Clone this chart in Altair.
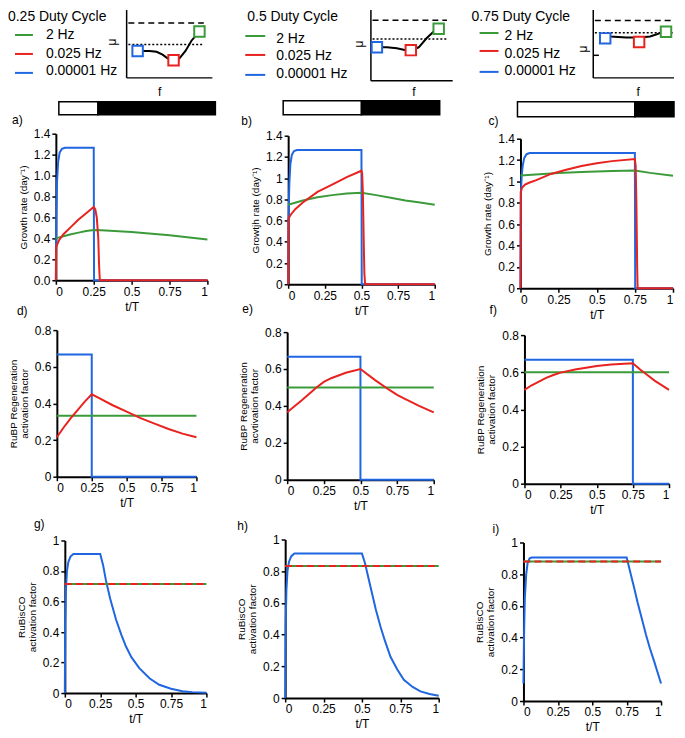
import altair as alt
import pandas as pd

GREEN = "#3b9b3b"
RED = "#e8231f"
BLUE = "#1f66e0"
FONT = "Liberation Sans"

# ---------------- data ----------------
duty_cycles = [0.25, 0.5, 0.75]
col_titles = ["0.25 Duty Cycle", "0.5 Duty Cycle", "0.75 Duty Cycle"]
legend_labels = ["2 Hz", "0.025 Hz", "0.00001 Hz"]
legend_colors = [GREEN, RED, BLUE]
x_ticks = [0, 0.25, 0.5, 0.75, 1]
growth_ticks = [0, 0.2, 0.4, 0.6, 0.8, 1.0, 1.2, 1.4]
rubp_ticks = [0, 0.2, 0.4, 0.6, 0.8]
rubisco_ticks = [0, 0.2, 0.4, 0.6, 0.8, 1.0]

# panel a (growth, 0.25)
a_blue_t = [0, 0.003, 0.008, 0.015, 0.025, 0.04, 0.06, 0.25, 0.252, 1]
a_blue_v = [0, 0.60, 0.95, 1.13, 1.22, 1.255, 1.265, 1.265, 0, 0]
a_red_t = [0, 0.002, 0.02, 0.05, 0.1, 0.15, 0.2, 0.25, 0.26, 0.27, 0.28, 0.285, 0.29, 1]
a_red_v = [0, 0.32, 0.38, 0.44, 0.51, 0.58, 0.64, 0.70, 0.68, 0.60, 0.40, 0.15, 0, 0]
a_green_t = [0, 0.05, 0.1, 0.15, 0.2, 0.25, 0.3, 0.5, 0.75, 1]
a_green_v = [0.40, 0.42, 0.44, 0.455, 0.47, 0.48, 0.478, 0.46, 0.43, 0.39]
# panel b (growth, 0.5)
b_blue_t = [0, 0.003, 0.008, 0.015, 0.025, 0.04, 0.06, 0.5, 0.502, 1]
b_blue_v = [0, 0.65, 0.95, 1.13, 1.22, 1.255, 1.265, 1.265, 0, 0]
b_red_t = [0, 0.002, 0.02, 0.05, 0.1, 0.2, 0.3, 0.4, 0.5, 0.505, 0.51, 0.515, 0.52, 0.525, 1]
b_red_v = [0, 0.62, 0.66, 0.71, 0.77, 0.87, 0.94, 1.01, 1.07, 1.04, 0.85, 0.45, 0.1, 0, 0]
b_green_t = [0, 0.1, 0.2, 0.3, 0.4, 0.5, 0.6, 0.7, 0.8, 0.9, 1]
b_green_v = [0.75, 0.79, 0.82, 0.84, 0.855, 0.862, 0.84, 0.815, 0.79, 0.77, 0.75]
# panel c (growth, 0.75)
c_blue_t = [0, 0.003, 0.008, 0.015, 0.025, 0.04, 0.06, 0.75, 0.752, 1]
c_blue_v = [0, 0.90, 1.05, 1.15, 1.22, 1.255, 1.265, 1.265, 0, 0]
c_red_t = [0, 0.002, 0.01, 0.03, 0.06, 0.1, 0.2, 0.3, 0.4, 0.5, 0.6, 0.75, 0.755, 0.76, 0.765, 0.768, 1]
c_red_v = [0, 0.90, 0.94, 0.97, 0.99, 1.01, 1.07, 1.11, 1.145, 1.17, 1.19, 1.21, 1.15, 0.8, 0.2, 0, 0]
c_green_t = [0, 0.1, 0.25, 0.4, 0.5, 0.6, 0.75, 0.85, 1]
c_green_v = [1.055, 1.065, 1.078, 1.088, 1.094, 1.098, 1.103, 1.08, 1.053]
# panel d (RuBP, 0.25)
d_blue_t = [0, 0.25, 0.25, 1]
d_blue_v = [0.667, 0.667, 0, 0]
d_red_t = [0, 0.05, 0.1, 0.15, 0.2, 0.25, 0.3, 0.4, 0.5, 0.6, 0.7, 0.8, 0.9, 1]
d_red_v = [0.215, 0.27, 0.32, 0.365, 0.41, 0.45, 0.43, 0.39, 0.355, 0.32, 0.29, 0.26, 0.235, 0.215]
d_green_t = [0, 1]
d_green_v = [0.333, 0.333]
# panel e (RuBP, 0.5)
e_blue_t = [0, 0.5, 0.5, 1]
e_blue_v = [0.667, 0.667, 0, 0]
e_red_t = [0, 0.1, 0.2, 0.25, 0.3, 0.4, 0.5, 0.6, 0.7, 0.75, 0.8, 0.9, 1]
e_red_v = [0.365, 0.43, 0.50, 0.53, 0.55, 0.58, 0.60, 0.54, 0.485, 0.46, 0.44, 0.40, 0.365]
e_green_t = [0, 1]
e_green_v = [0.5, 0.5]
# panel f (RuBP, 0.75)
f_blue_t = [0, 0.75, 0.75, 1]
f_blue_v = [0.667, 0.667, 0, 0]
f_red_t = [0, 0.05, 0.1, 0.15, 0.2, 0.25, 0.35, 0.5, 0.6, 0.75, 0.8, 0.85, 0.9, 1]
f_red_v = [0.505, 0.53, 0.55, 0.57, 0.585, 0.598, 0.615, 0.634, 0.642, 0.648, 0.615, 0.585, 0.555, 0.505]
f_green_t = [0, 1]
f_green_v = [0.6, 0.6]
# panel g (RuBisCO, 0.25)
g_blue_t = [0, 0.003, 0.008, 0.015, 0.025, 0.04, 0.06, 0.25, 0.27, 0.29, 0.32, 0.362, 0.4,
            0.432, 0.47, 0.526, 0.6, 0.667, 0.75, 0.831, 0.9, 1]
g_blue_v = [0, 0.45, 0.68, 0.80, 0.86, 0.895, 0.912, 0.912, 0.84, 0.74, 0.62, 0.48, 0.38,
            0.305, 0.235, 0.163, 0.095, 0.054, 0.028, 0.012, 0.006, 0.002]
g_flat_t = [0, 1]
g_flat_v = [0.715, 0.715]
# panel h (RuBisCO, 0.5)
h_blue_t = [0, 0.003, 0.008, 0.015, 0.025, 0.04, 0.06, 0.5, 0.52, 0.556, 0.59, 0.621, 0.65,
            0.686, 0.73, 0.773, 0.83, 0.881, 0.94, 1]
h_blue_v = [0, 0.45, 0.68, 0.80, 0.86, 0.895, 0.912, 0.912, 0.85, 0.70, 0.56, 0.45, 0.36,
            0.26, 0.18, 0.115, 0.07, 0.042, 0.025, 0.015]
h_flat_t = [0, 1]
h_flat_v = [0.833, 0.833]
# panel i (RuBisCO, 0.75)
i_blue_t = [0, 0.005, 0.01, 0.02, 0.03, 0.045, 0.06, 0.75, 0.76, 0.78, 0.80, 0.83, 0.86,
            0.89, 0.92, 0.95, 0.975, 1]
i_blue_v = [0.11, 0.45, 0.65, 0.80, 0.87, 0.90, 0.905, 0.905, 0.87, 0.80, 0.73, 0.62, 0.52,
            0.42, 0.33, 0.25, 0.18, 0.11]
i_flat_t = [0, 1]
i_flat_v = [0.88, 0.88]

# inset schematic (f vs mu) for each duty cycle
ins1_f = [0.128, 0.267, 0.349, 0.419, 0.477, 0.547, 0.616, 0.686, 0.756, 0.849, 0.907]
ins1_mu = [0.397, 0.397, 0.384, 0.342, 0.288, 0.260, 0.288, 0.397, 0.548, 0.685, 0.767]
ins1_sq_f = [0.849, 0.547, 0.128]
ins1_sq_mu = [0.685, 0.260, 0.397]
ins1_ref = [0.808, 0.493]
ins2_f = [0.073, 0.195, 0.317, 0.427, 0.488, 0.585, 0.683, 0.805, 0.866]
ins2_mu = [0.474, 0.474, 0.461, 0.434, 0.434, 0.474, 0.605, 0.737, 0.803]
ins2_sq_f = [0.829, 0.488, 0.073]
ins2_sq_mu = [0.737, 0.434, 0.474]
ins2_ref = [0.855, 0.592]
ins3_f = [0.086, 0.210, 0.407, 0.580, 0.704, 0.778, 0.864, 0.963]
ins3_mu = [0.625, 0.611, 0.597, 0.597, 0.611, 0.639, 0.681, 0.722]
ins3_sq_f = [0.901, 0.568, 0.148]
ins3_sq_mu = [0.681, 0.528, 0.583]
ins3_ref = [0.847, 0.667]

# ---------------- layout ----------------
COL_W = [228, 235, 157]
ROW_H = [124, 197, 210, 162]


def sdf(t, v):
    return pd.DataFrame({"t": t, "v": v, "i": list(range(len(t)))})


def panel(series, ymax, yvals, yfmt, ytitle, label, W, H, xr, yr, lab):
    xs = alt.Scale(domain=[0, 1], range=list(xr), nice=False, zero=False)
    ys = alt.Scale(domain=[0, ymax], range=list(yr), nice=False, zero=False)
    xax = alt.Axis(values=x_ticks, format=".3~g", title="t/T", offset=-(H - yr[0]))
    yax = alt.Axis(values=yvals, format=yfmt, title=ytitle, offset=-xr[0])
    layers = []
    for (t, v, color, dash) in series:
        kw = dict(color=color, strokeWidth=2, clip=False)
        if dash:
            kw["strokeDash"] = dash
        layers.append(
            alt.Chart(sdf(t, v)).mark_line(**kw).encode(
                x=alt.X("t:Q", scale=xs, axis=xax),
                y=alt.Y("v:Q", scale=ys, axis=yax),
                order="i:Q",
            )
        )
    layers.append(
        alt.Chart(pd.DataFrame({"l": [label]})).mark_text(
            align="left", baseline="middle", fontSize=12, color="black"
        ).encode(x=alt.value(lab[0]), y=alt.value(lab[1]), text="l:N")
    )
    return alt.layer(*layers).properties(width=W, height=H)


def header(k, W, H, title_x, lx, lys, tx, tys, fr, mr, curve_f, curve_mu, sq_f, sq_mu, ref,
           ref_f1, mu_lab, f_lab, bar_r, bar_y, tick=False):
    layers = []
    layers.append(
        alt.Chart(pd.DataFrame({"l": [col_titles[k]]})).mark_text(
            align="left", baseline="top", fontSize=14, color="black"
        ).encode(x=alt.value(title_x), y=alt.value(0), text="l:N")
    )
    for j in range(3):
        one = pd.DataFrame({"l": [legend_labels[j]]})
        layers.append(
            alt.Chart(one).mark_rule(color=legend_colors[j], strokeWidth=2).encode(
                x=alt.value(lx[0]), x2=alt.value(lx[1]), y=alt.value(lys[j])
            )
        )
        layers.append(
            alt.Chart(one).mark_text(align="left", baseline="middle", fontSize=14, color="black").encode(
                x=alt.value(tx), y=alt.value(tys[j]), text="l:N"
            )
        )
    layers.append(
        alt.Chart(pd.DataFrame({"l": ["μ"]})).mark_text(
            angle=270, align="center", baseline="middle", fontSize=12, color="black"
        ).encode(x=alt.value(mu_lab[0]), y=alt.value(mu_lab[1]), text="l:N")
    )
    layers.append(
        alt.Chart(pd.DataFrame({"l": ["f"]})).mark_text(
            align="center", baseline="middle", fontSize=12, color="black"
        ).encode(x=alt.value(f_lab[0]), y=alt.value(f_lab[1]), text="l:N")
    )

    fs = alt.Scale(domain=[0, 1], range=list(fr), nice=False, zero=False)
    ms = alt.Scale(domain=[0, 1], range=list(mr), nice=False, zero=False)
    ax_f0 = [0, 0] + ([0] if tick else [])
    ax_f1 = [0, 1] + ([0.07] if tick else [])
    ax_m0 = [0, 0] + ([0.333] if tick else [])
    ax_m1 = [1, 0] + ([0.333] if tick else [])
    axes_df = pd.DataFrame({"f0": ax_f0, "f1": ax_f1, "m0": ax_m0, "m1": ax_m1})
    inset = [
        alt.Chart(axes_df).mark_rule(color="black", strokeWidth=1.5).encode(
            x=alt.X("f0:Q", scale=fs, axis=None), x2="f1:Q",
            y=alt.Y("m0:Q", scale=ms, axis=None), y2="m1:Q"),
        alt.Chart(pd.DataFrame({"f0": [0.02], "f1": [ref_f1], "m": [ref[0]]})).mark_rule(
            color="black", strokeWidth=1.5, strokeDash=[6, 4]).encode(
            x=alt.X("f0:Q", scale=fs, axis=None), x2="f1:Q",
            y=alt.Y("m:Q", scale=ms, axis=None)),
        alt.Chart(pd.DataFrame({"f0": [0.02], "f1": [ref_f1], "m": [ref[1]]})).mark_rule(
            color="black", strokeWidth=1.5, strokeDash=[2, 2]).encode(
            x=alt.X("f0:Q", scale=fs, axis=None), x2="f1:Q",
            y=alt.Y("m:Q", scale=ms, axis=None)),
        alt.Chart(pd.DataFrame({"f": curve_f, "mu": curve_mu, "i": list(range(len(curve_f)))})).mark_line(
            color="black", strokeWidth=2, clip=False).encode(
            x=alt.X("f:Q", scale=fs, axis=None), y=alt.Y("mu:Q", scale=ms, axis=None), order="i:Q"),
        alt.Chart(pd.DataFrame({"f": sq_f, "mu": sq_mu, "c": legend_colors})).mark_point(
            shape="square", size=110, filled=True, fill="white", strokeWidth=2,
            opacity=1, fillOpacity=1, strokeOpacity=1).encode(
            x=alt.X("f:Q", scale=fs, axis=None), y=alt.Y("mu:Q", scale=ms, axis=None),
            stroke=alt.Stroke("c:N", scale=None)),
    ]
    bs = alt.Scale(domain=[0, 1], range=list(bar_r), nice=False, zero=False)
    d = duty_cycles[k]
    bar = alt.Chart(pd.DataFrame({"t0": [0, d], "t1": [d, 1], "c": ["white", "black"]})).mark_rect(
        stroke="black", strokeWidth=1.5).encode(
        x=alt.X("t0:Q", scale=bs, axis=None), x2="t1:Q",
        y=alt.value(bar_y[0]), y2=alt.value(bar_y[1]),
        fill=alt.Fill("c:N", scale=None))
    layers.append(alt.layer(*inset))
    layers.append(bar)
    return alt.layer(*layers).resolve_scale(x="independent", y="independent").properties(width=W, height=H)


h1 = header(0, COL_W[0], ROW_H[0], -48, (-41, -23), [25, 44, 63], -10, [25, 44, 61],
            (71, 157), (68, 0), ins1_f, ins1_mu, ins1_sq_f, ins1_sq_mu, ins1_ref, 0.9,
            (56, 32), (104, 82), (3, 160), (92, 105))
h2 = header(1, COL_W[1], ROW_H[0], -36, (-38, -18), [26, 45, 65], -7, [29, 46, 64],
            (88, 170), (71, 0), ins2_f, ins2_mu, ins2_sq_f, ins2_sq_mu, ins2_ref, 0.93,
            (76, 34), (131, 82), (0, 157), (91, 105))
h3 = header(2, COL_W[2], ROW_H[0], -46, (-38, -19), [23, 41, 62], -13, [26, 44, 61],
            (76, 157), (68, 0), ins3_f, ins3_mu, ins3_sq_f, ins3_sq_mu, ins3_ref, 0.99,
            (66, 39), (121, 82), (0, 157), (92, 107), tick=True)

GR1 = "Growth rate (day⁻¹)"
GR2 = "Growtjh rate (day⁻¹)"
YF = ".3~g"

pa = panel([(a_blue_t, a_blue_v, BLUE, None), (a_green_t, a_green_v, GREEN, None), (a_red_t, a_red_v, RED, None)],
           1.4, growth_ticks, ".1f", GR1, "a)", COL_W[0], ROW_H[1], (0, 152), (147, 0), (-44, -14))
pb = panel([(b_blue_t, b_blue_v, BLUE, None), (b_green_t, b_green_v, GREEN, None), (b_red_t, b_red_v, RED, None)],
           1.4, growth_ticks, YF, GR2, "b)", COL_W[1], ROW_H[1], (5, 152), (151, 2), (-42, -13))
pc = panel([(c_blue_t, c_blue_v, BLUE, None), (c_green_t, c_green_v, GREEN, None), (c_red_t, c_red_v, RED, None)],
           1.4, growth_ticks, YF, GR1, "c)", COL_W[2], ROW_H[1], (3, 156), (155, 5), (-29, -13))

pd_ = panel([(d_blue_t, d_blue_v, BLUE, None), (d_green_t, d_green_v, GREEN, None), (d_red_t, d_red_v, RED, None)],
            0.8, rubp_ticks, YF, ["RuBP Regeneration", "activation factor"], "d)", COL_W[0], ROW_H[2],
            (1, 141), (147, 0), (-39, -19))
pe = panel([(e_blue_t, e_blue_v, BLUE, None), (e_green_t, e_green_v, GREEN, None), (e_red_t, e_red_v, RED, None)],
           0.8, rubp_ticks, YF, ["RuBP Regeneration", "acvtivation factor"], "e)", COL_W[1], ROW_H[2],
           (4, 151), (150, 2), (-41, -21))
pf = panel([(f_blue_t, f_blue_v, BLUE, None), (f_green_t, f_green_v, GREEN, None), (f_red_t, f_red_v, RED, None)],
           0.8, rubp_ticks, YF, ["RuBP Regeneration", "activation factor"], "f)", COL_W[2], ROW_H[2],
           (7, 152), (154, 5), (-28, -20))

pg = panel([(g_blue_t, g_blue_v, BLUE, None), (g_flat_t, g_flat_v, GREEN, None), (g_flat_t, g_flat_v, RED, [7, 4])],
           1.0, rubisco_ticks, YF, ["RuBisCO", "activation factor"], "g)", COL_W[0], ROW_H[3],
           (9, 151), (154, 1), (-22, -16))
ph = panel([(h_blue_t, h_blue_v, BLUE, None), (h_flat_t, h_flat_v, GREEN, None), (h_flat_t, h_flat_v, RED, [7, 4])],
           1.0, rubisco_ticks, YF, ["RuBisCO", "activation factor"], "h)", COL_W[1], ROW_H[3],
           (2, 156), (159, 0), (-46, -14))
pi = panel([(i_blue_t, i_blue_v, BLUE, None), (i_flat_t, i_flat_v, GREEN, None), (i_flat_t, i_flat_v, RED, [7, 4])],
           1.0, rubisco_ticks, YF, ["RuBisCO", "activation factor"], "i)", COL_W[2], ROW_H[3],
           (6, 144), (162, 3), (-25, -11))

chart = alt.concat(h1, h2, h3, pa, pb, pc, pd_, pe, pf, pg, ph, pi,
                   columns=3, spacing=0, bounds="flush").properties(padding=0)
chart = chart.configure_view(stroke=None).configure_axis(
    domainColor="black", domainWidth=2, tickColor="black", tickWidth=1.5, tickSize=4,
    labelColor="black", labelFont=FONT, labelFontSize=12, labelPadding=2,
    titleFont=FONT, titleFontSize=10, titleFontWeight="normal", titleColor="black",
    titlePadding=5, titleLineHeight=11, grid=False
).configure_axisX(titleFontSize=12, titlePadding=4).configure_text(font=FONT)

chart.save("out.html", embed_options={"renderer": "svg", "actions": False})
